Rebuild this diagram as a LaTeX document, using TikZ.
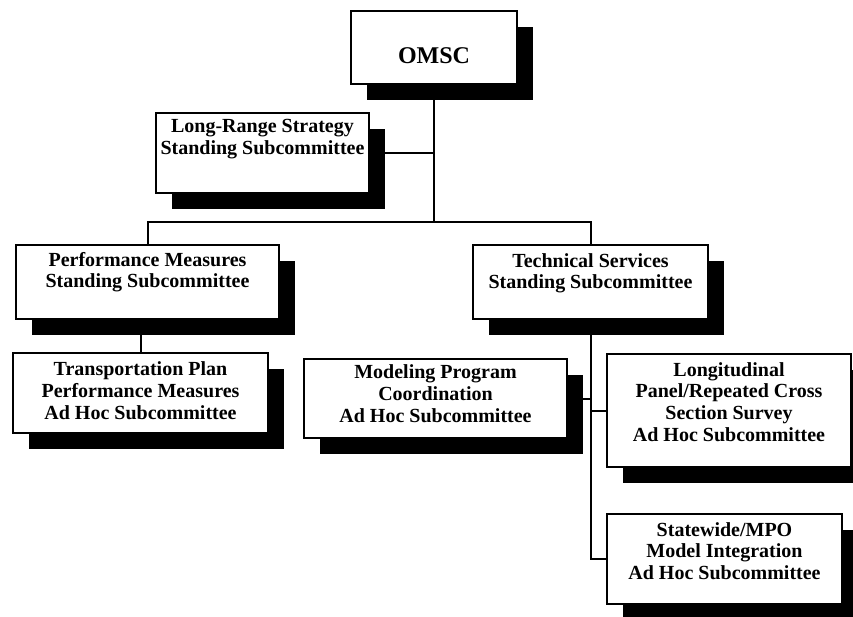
\documentclass[tikz,border=0pt]{standalone}
\usepackage{fontspec}
\setmainfont{Liberation Serif}
\usetikzlibrary{shadows}
\pgfdeclarelayer{paper}
\pgfdeclarelayer{bg}
\pgfsetlayers{paper,bg,main}
% #1 width, #2 height, #3 first-baseline offset, #4 text
\newcommand{\orgtext}[4]{\parbox[t][#2][t]{#1}{\centering\fontsize{20}{21.8}\selectfont\bfseries\rule{0pt}{#3}#4}}
\tikzset{
  x=1pt, y=-1pt,
  orgbox/.style={draw=black, line width=2pt, fill=white, inner sep=0pt, anchor=north west,
    general shadow={fill=black, shadow xshift=16pt, shadow yshift=-16pt}},
  conn/.style={draw=black, line width=2pt}
}
\begin{document}
\begin{tikzpicture}
\useasboundingbox (0,0) rectangle (853,616);
\begin{pgfonlayer}{paper}
\fill[white] (0,0) rectangle (853,616);
\end{pgfonlayer}
\clip (0,0) rectangle (853,616);

\node[orgbox] (omsc) at (350,10)
  {\parbox[t][73pt][t]{166pt}{\centering\fontsize{24}{26}\selectfont\bfseries\rule{0pt}{52pt}OMSC}};
\node[orgbox] (lr) at (155,112)
  {\orgtext{213pt}{80pt}{19.5pt}{Long-Range Strategy\\Standing Subcommittee}};
\node[orgbox] (pm) at (15,244)
  {\orgtext{263pt}{74pt}{21pt}{Performance Measures\\Standing Subcommittee}};
\node[orgbox] (ts) at (472,244)
  {\orgtext{235pt}{74pt}{22pt}{Technical Services\\Standing Subcommittee}};
\node[orgbox] (tp) at (12,352)
  {\orgtext{255pt}{80pt}{22.5pt}{Transportation Plan\\Performance Measures\\Ad Hoc Subcommittee}};
\node[orgbox] (mp) at (303,358)
  {\orgtext{263pt}{79pt}{19.5pt}{Modeling Program\\Coordination\\Ad Hoc Subcommittee}};
\node[orgbox] (lp) at (606,353)
  {\orgtext{244pt}{113pt}{22pt}{Longitudinal\\Panel/Repeated Cross\\Section Survey\\Ad Hoc Subcommittee}};
\node[orgbox] (sw) at (606,513)
  {\orgtext{235pt}{90pt}{22pt}{Statewide/MPO\\Model Integration\\Ad Hoc Subcommittee}};

\coordinate (bus) at (0,222);
\begin{pgfonlayer}{bg}
\draw[conn] (omsc.south) -- (omsc.south |- bus);
\draw[conn] (lr.east) -- (lr.east -| omsc.south);
\draw[conn] (pm.north) -- (pm.north |- bus) -- (ts.north |- bus) -- (ts.north);
\draw[conn] (pm.south -| tp.north) -- (tp.north);
\draw[conn] (ts.south) -- (ts.south |- sw.west) -- (sw.west);
\draw[conn] (mp.east) -- (mp.east -| ts.south);
\draw[conn] (lp.west -| ts.south) -- (lp.west);
\end{pgfonlayer}
\end{tikzpicture}
\end{document}
